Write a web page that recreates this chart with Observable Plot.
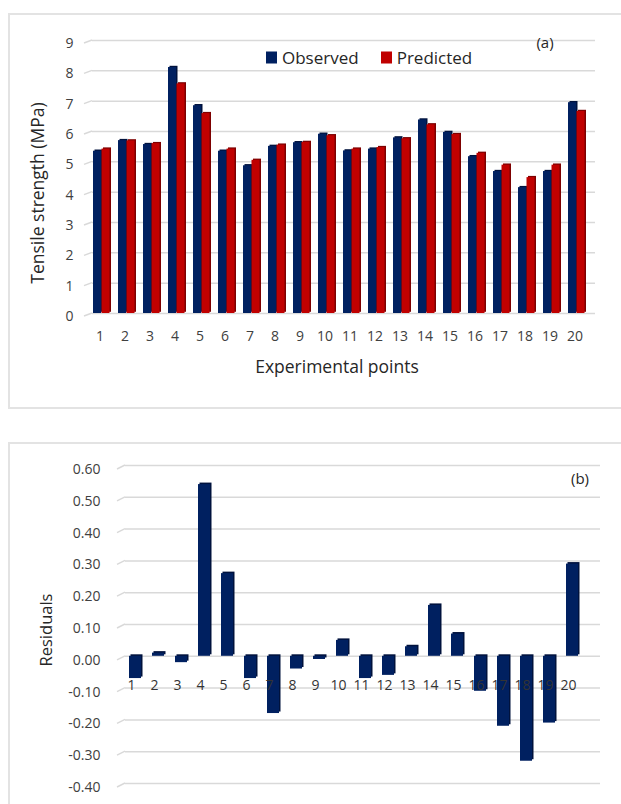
<!DOCTYPE html>
<html>
<head>
<meta charset="utf-8">
<script src="https://cdn.jsdelivr.net/npm/d3@7"></script>
<script src="https://cdn.jsdelivr.net/npm/@observablehq/plot@0.6"></script>
<style>
  html, body { margin: 0; padding: 0; background: #fff; }
  #page { position: relative; width: 621px; height: 804px; overflow: hidden; background: #fff;
          font-family: "Open Sans", "DejaVu Sans", sans-serif; }
  .panel { position: absolute; box-sizing: border-box; border: 2px solid #e3e3e3; background: #fff; }
  .chart { position: absolute; left: 0; }
  .lbl { position: absolute; transform: translate(-50%, -50%); white-space: nowrap; color: #262626; }
  .legend { position: absolute; left: 266px; top: 57px; transform: translateY(-50%);
            display: flex; align-items: center; font-size: 17px; color: #262626; }
  .legend .sw { width: 11px; height: 12px; margin-right: 5px; }
  .legend .item { display: flex; align-items: center; }
</style>
</head>
<body>
<div id="page">
  <div class="panel" style="left:8px; top:13px; width:640px; height:396px;"></div>
  <div class="panel" style="left:8px; top:442px; width:640px; height:400px;"></div>
  <div id="chartA" class="chart" style="top:0px;"></div>
  <div id="chartB" class="chart" style="top:442px;"></div>

  <div class="legend">
    <div class="item"><div class="sw" style="background:#002060"></div><span>Observed</span></div>
    <div class="item" style="margin-left:22px"><div class="sw" style="background:#c00000"></div><span>Predicted</span></div>
  </div>
  <div class="lbl" style="left:545px; top:42px; font-size:15px;">(a)</div>
  <div class="lbl" style="left:37px; top:193px; font-size:17.5px; transform: translate(-50%,-50%) rotate(-90deg);">Tensile strength (MPa)</div>
  <div class="lbl" style="left:337px; top:366px; font-size:17.5px;">Experimental points</div>

  <div class="lbl" style="left:580px; top:478px; font-size:15px;">(b)</div>
  <div class="lbl" style="left:45px; top:630px; font-size:16.5px; transform: translate(-50%,-50%) rotate(-90deg);">Residuals</div>
</div>

<script>
// Experimental runs
const points = [1, 2, 3, 4, 5, 6, 7, 8, 9, 10, 11, 12, 13, 14, 15, 16, 17, 18, 19, 20];

// Tensile strength (MPa)
const observed  = [5.35, 5.70, 5.57, 8.11, 6.85, 5.35, 4.87, 5.51, 5.63, 5.91,
                   5.36, 5.42, 5.79, 6.38, 5.97, 5.17, 4.68, 4.15, 4.68, 6.95];
const predicted = [5.42, 5.69, 5.60, 7.57, 6.59, 5.42, 5.05, 5.55, 5.64, 5.86,
                   5.42, 5.47, 5.76, 6.22, 5.90, 5.28, 4.89, 4.48, 4.89, 6.66];

// Residuals (observed - predicted)
const residuals = [-0.07, 0.01, -0.02, 0.54, 0.26, -0.07, -0.18, -0.04, -0.01, 0.05,
                   -0.07, -0.06, 0.03, 0.16, 0.07, -0.11, -0.22, -0.33, -0.21, 0.29];

// Axis tick values
const strengthTicks = [0, 1, 2, 3, 4, 5, 6, 7, 8, 9];
const residualTicks = [-0.4, -0.3, -0.2, -0.1, 0, 0.1, 0.2, 0.3, 0.4, 0.5, 0.6];

const NAVY = "#002060", NAVY_SIDE = "#00123d";
const RED = "#c00000", RED_SIDE = "#7d0000";
const GRID = "#d9d9d9";

const strengthRows = points.map((p, i) => ({point: p, observed: observed[i], predicted: predicted[i]}));
const residualRows = points.map((p, i) => ({point: p, residual: residuals[i]}));

// Short slanted stubs at the left end of each gridline (floor perspective)
function addGridStubs(plot, ticks, run, drop) {
  const y = plot.scale("y"), x = plot.scale("x");
  const x0 = x.range[0];
  d3.select(plot).append("g")
    .attr("stroke", GRID).attr("stroke-width", 1.5).attr("fill", "none")
    .selectAll("line").data(ticks).join("line")
    .attr("x1", x0 - run).attr("y1", d => y.apply(d) + drop)
    .attr("x2", x0).attr("y2", d => y.apply(d));
}

// (a) Observed vs predicted tensile strength
const chartA = Plot.plot({
  width: 621,
  height: 350,
  marginLeft: 92,
  marginRight: 26,
  marginTop: 40,
  marginBottom: 37,
  style: {fontFamily: "Open Sans", fontSize: "14px", color: "#404040", background: "transparent"},
  x: {domain: points, paddingInner: 0.324, paddingOuter: 0.179, align: 0.11},
  y: {domain: [0, 9]},
  marks: [
    Plot.gridY(strengthTicks, {stroke: GRID, strokeOpacity: 1, strokeWidth: 1.5}),
    Plot.axisY(strengthTicks, {tickSize: 0, tickPadding: 19, dy: 3, label: null, tickFormat: d => String(d)}),
    Plot.axisX(points, {tickSize: 0, tickPadding: 18, dx: -2, label: null}),
    Plot.barY(strengthRows, {x: "point", y: "observed", fill: NAVY_SIDE, insetRight: 9, dx: 1.5, dy: -1.2}),
    Plot.barY(strengthRows, {x: "point", y: "observed", fill: NAVY, insetRight: 9}),
    Plot.barY(strengthRows, {x: "point", y: "predicted", fill: RED_SIDE, insetLeft: 8.5, insetRight: 0.5, dx: 1.5, dy: -1.2}),
    Plot.barY(strengthRows, {x: "point", y: "predicted", fill: RED, insetLeft: 8.5, insetRight: 0.5})
  ]
});
addGridStubs(chartA, strengthTicks, 8, 3);
document.getElementById("chartA").append(chartA);

// (b) Residuals per experimental point
const chartB = Plot.plot({
  width: 621,
  height: 362,
  marginLeft: 125,
  marginRight: 21,
  marginTop: 23,
  marginBottom: 21,
  style: {fontFamily: "Open Sans", fontSize: "14px", color: "#404040", background: "transparent"},
  x: {domain: points, paddingInner: 0.497, paddingOuter: 0.253, align: 0.167, axis: null},
  y: {domain: [-0.4, 0.6]},
  marks: [
    Plot.gridY(residualTicks, {stroke: GRID, strokeOpacity: 1, strokeWidth: 1.5}),
    Plot.axisY(residualTicks, {tickSize: 0, tickPadding: 25, dy: 4, label: null, tickFormat: d => d.toFixed(2)}),
    Plot.barY(residualRows, {x: "point", y: "residual", fill: NAVY_SIDE, dx: 1.5, dy: -1.5}),
    Plot.barY(residualRows, {x: "point", y: "residual", fill: NAVY}),
    Plot.text(points, {x: d => d, y: () => 0, text: d => String(d), dy: 29, dx: -4, fill: "#333", fontSize: 14})
  ]
});
addGridStubs(chartB, residualTicks, 8, 4);
document.getElementById("chartB").append(chartB);
</script>
</body>
</html>
